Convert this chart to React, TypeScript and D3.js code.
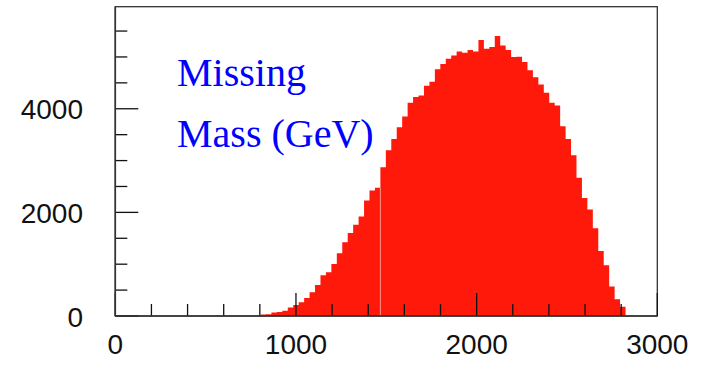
import React, { useEffect } from 'react';
import * as d3 from 'd3';

const W = 703;
const H = 368;

// Histogram: Missing Mass (GeV), bins
const binStart = 804;
const binWidth = 30.15;
const counts = [
  30, 35, 68, 75, 103, 165, 210, 265, 348, 458,
  600, 787, 845, 1006, 1212, 1425, 1600, 1760, 1921, 2230,
  2424, 2476, 2869, 3197, 3418, 3642, 3850, 4114, 4226, 4255,
  4442, 4522, 4765, 4862, 4965, 5029, 5106, 5081, 5132, 5106,
  5325, 5158, 5190, 5403, 5222, 5132, 4997, 5004, 4905, 4745,
  4610, 4468, 4307, 4114, 4062, 3662, 3418, 3101, 2669, 2276,
  2057, 1696, 1257, 980, 567, 323, 180,
];

const xDomain = [0, 3000];
const yDomain = [0, 5970];
const xLabels = [0, 1000, 2000, 3000];
const yLabels = [0, 2000, 4000];
const xMinorStep = 200;
const yMinorStep = 500;
const titleLines = ['Missing', 'Mass (GeV)'];
const seamBin = 21; // light rendering seam visible in the original

export default function App() {
  useEffect(() => {
    document.body.style.margin = '0';
  }, []);

  const x = d3.scaleLinear().domain(xDomain).range([115.3, 657.3]);
  const y = d3.scaleLinear().domain(yDomain).range([316, 6.7]);

  const pts: [number, number][] = counts.map((c, i) => [binStart + i * binWidth, c]);
  pts.push([binStart + counts.length * binWidth, counts[counts.length - 1]]);

  const area = d3
    .area<[number, number]>()
    .x((d) => x(d[0]))
    .y0(y(0))
    .y1((d) => y(d[1]))
    .curve(d3.curveStepAfter);

  const xMinor = d3.range(xDomain[0], xDomain[1] + 1, xMinorStep).filter((v) => !xLabels.includes(v));
  const yMinor = d3.range(yDomain[0], yDomain[1], yMinorStep).filter((v) => !yLabels.includes(v));

  const seamX = x(binStart + (seamBin + 1) * binWidth);

  const majorLen = 23;
  const minorLen = 12;
  const tickColor = '#111';

  return (
    <svg
      width={W}
      height={H}
      viewBox={`0 0 ${W} ${H}`}
      style={{ position: 'absolute', left: 0, top: 0, display: 'block', background: '#fff' }}
    >
      <rect x={0} y={0} width={W} height={H} fill="#fff" />
      <path d={area(pts) || ''} fill="#ff190a" />
      <line
        x1={seamX}
        x2={seamX}
        y1={y(counts[seamBin])}
        y2={y(0)}
        stroke="#ff9488"
        strokeWidth={1}
      />
      {/* frame */}
      <rect
        x={x(xDomain[0])}
        y={y(yDomain[1])}
        width={x(xDomain[1]) - x(xDomain[0])}
        height={y(0) - y(yDomain[1])}
        fill="none"
        stroke="#333"
        strokeWidth={1.3}
      />
      {/* x ticks */}
      {xLabels.map((v) => (
        <line key={'xM' + v} x1={x(v)} x2={x(v)} y1={y(0)} y2={y(0) - majorLen} stroke={tickColor} strokeWidth={1.3} />
      ))}
      {xMinor.map((v) => (
        <line key={'xm' + v} x1={x(v)} x2={x(v)} y1={y(0)} y2={y(0) - minorLen} stroke={tickColor} strokeWidth={1.3} />
      ))}
      {/* y ticks */}
      {yLabels.map((v) => (
        <line key={'yM' + v} x1={x(0)} x2={x(0) + majorLen} y1={y(v)} y2={y(v)} stroke={tickColor} strokeWidth={1.3} />
      ))}
      {yMinor.map((v) => (
        <line key={'ym' + v} x1={x(0)} x2={x(0) + minorLen} y1={y(v)} y2={y(v)} stroke={tickColor} strokeWidth={1.3} />
      ))}
      {/* axis lines on top */}
      <line x1={x(0)} x2={x(3000)} y1={y(0)} y2={y(0)} stroke="#333" strokeWidth={1.6} />
      <line x1={x(0)} x2={x(0)} y1={y(0)} y2={y(yDomain[1])} stroke="#333" strokeWidth={1.6} />
      {/* labels */}
      {xLabels.map((v) => (
        <text
          key={'xl' + v}
          x={x(v)}
          y={354}
          textAnchor="middle"
          fontFamily="'Liberation Sans', Arial, sans-serif"
          fontSize={28}
          fill="#111"
        >
          {v}
        </text>
      ))}
      {yLabels.map((v) => (
        <text
          key={'yl' + v}
          x={83}
          y={y(v) + 10.5}
          textAnchor="end"
          fontFamily="'Liberation Sans', Arial, sans-serif"
          fontSize={28}
          fill="#111"
        >
          {v}
        </text>
      ))}
      {titleLines.map((t, i) => (
        <text
          key={'t' + i}
          x={177}
          y={85.7 + i * 61}
          fontFamily="'Liberation Serif', 'Times New Roman', serif"
          fontSize={40}
          fill="#0000ff"
        >
          {t}
        </text>
      ))}
    </svg>
  );
}
